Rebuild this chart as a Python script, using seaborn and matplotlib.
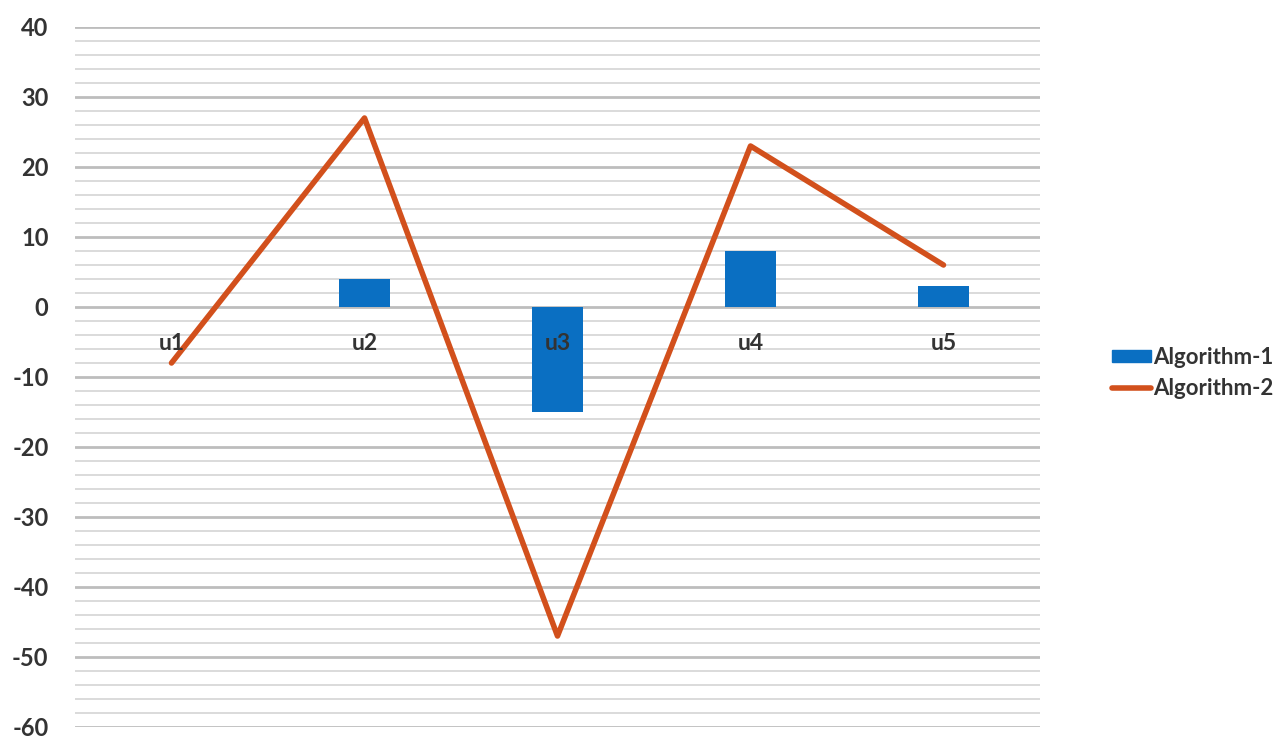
import numpy as np
import pandas as pd
import matplotlib
matplotlib.use("Agg")
import matplotlib.pyplot as plt
import seaborn as sns
from matplotlib.patches import Patch
from matplotlib.lines import Line2D
from matplotlib.ticker import MultipleLocator

categories = ["u1", "u2", "u3", "u4", "u5"]
algorithm1 = [0, 4, -15, 8, 3]
algorithm2 = [-8, 27, -47, 23, 6]
yticks = [40, 30, 20, 10, 0, -10, -20, -30, -40, -50, -60]

blue = "#0A6FC2"
orange = "#D2501C"

sns.set_style("white")
plt.rcParams["font.family"] = ["Lato", "DejaVu Sans"]
plt.rcParams["axes.unicode_minus"] = False

fig = plt.figure(figsize=(12.88, 7.40), dpi=100)
ax = fig.add_axes([75/1288, 13/740, (1040-75)/1288, (727-27)/740])

df = pd.DataFrame({"cat": categories, "a1": algorithm1, "a2": algorithm2})

sns.barplot(data=df, x="cat", y="a1", color=blue, width=0.26, ax=ax,
            saturation=1, linewidth=0, zorder=3)
sns.lineplot(x=np.arange(len(categories)), y=df["a2"], color=orange,
             linewidth=4.0, ax=ax, zorder=4, solid_capstyle="round")

ax.set_ylim(-60, 40)
ax.set_xlim(-0.5, len(categories) - 0.5)
ax.set_yticks(yticks)
ax.yaxis.set_minor_locator(MultipleLocator(2))
ax.grid(axis="y", which="major", color="#BDBDBD", linewidth=2.0)
ax.grid(axis="y", which="minor", color="#DADADA", linewidth=1.4)
ax.set_axisbelow(True)
ax.xaxis.set_zorder(5)
for s in ax.spines.values():
    s.set_visible(False)
ax.spines["bottom"].set_position(("data", 0))
ax.tick_params(axis="x", length=0, pad=19, labelsize=16.5)
ax.tick_params(axis="y", which="both", length=0, pad=19, labelsize=17)
for lbl in ax.get_xticklabels() + ax.get_yticklabels():
    lbl.set_fontweight("bold")
    lbl.set_color("#333333")
ax.set_xlabel("")
ax.set_ylabel("")

handles = [Patch(facecolor=blue, edgecolor=blue),
           Line2D([0], [0], color=orange, linewidth=4.0)]
leg = fig.legend(handles, ["Algorithm-1", "Algorithm-2"],
                 loc="center left", bbox_to_anchor=(1112/1288, 367/740),
                 frameon=False, fontsize=16, handlelength=1.75,
                 handletextpad=0.1, labelspacing=0.45, handleheight=0.5,
                 borderaxespad=0, borderpad=0)
for t in leg.get_texts():
    t.set_fontweight("bold")
    t.set_color("#333333")

fig.savefig("out.png", dpi=100)
